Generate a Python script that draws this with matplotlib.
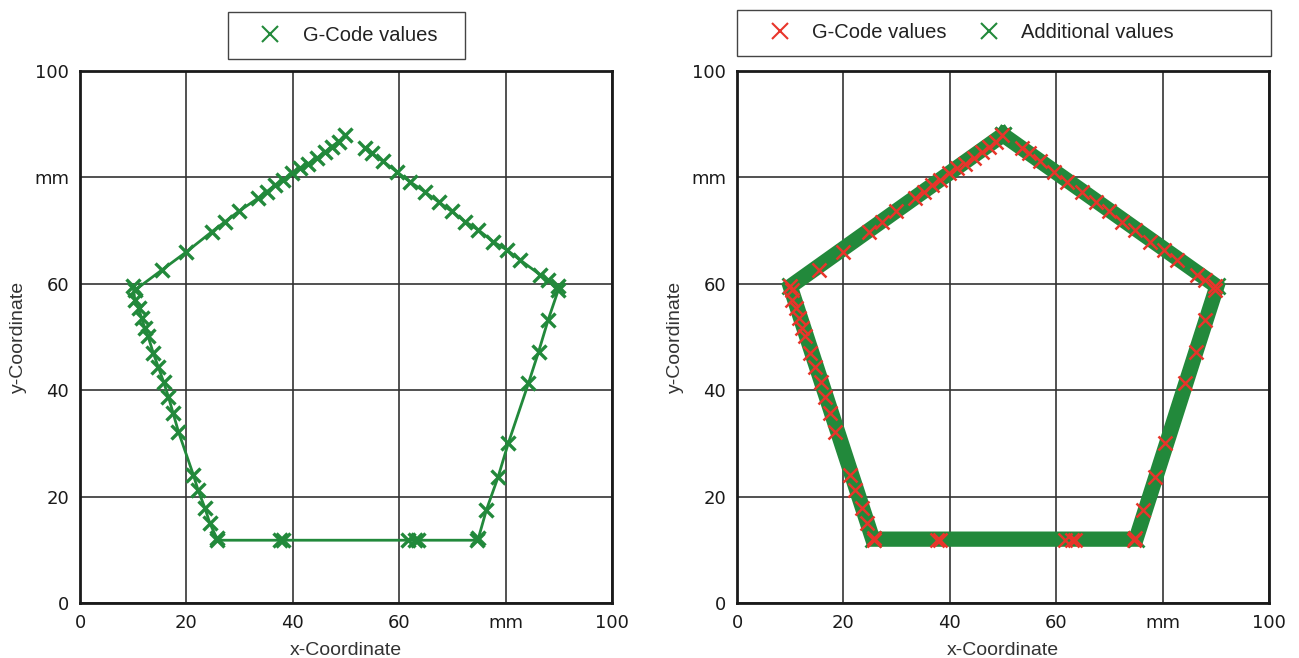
import matplotlib.pyplot as plt
from matplotlib.lines import Line2D
from matplotlib.patches import Rectangle

GREEN = "#22893b"
RED = "#e8352b"

# G-Code points, in path order (starts right of the top vertex, goes clockwise)
gcode_x = [53.6, 54.8, 57.0, 59.5, 62.0, 64.8, 67.4, 69.9, 72.4, 74.9, 77.7, 80.2,
           82.7, 86.5, 88.0, 89.9, 89.9, 88.0, 86.2, 84.3, 80.5, 78.6, 76.4, 74.9,
           74.6, 63.6, 63.0, 61.7, 38.2, 37.6, 25.7, 25.7, 24.4, 23.5, 22.2, 21.3,
           18.5, 17.5, 16.6, 15.7, 14.7, 13.8, 12.8, 12.2, 11.6, 11.0, 10.3, 10.0,
           10.3, 15.4, 20.0, 24.8, 27.3, 29.8, 33.5, 35.1, 36.7, 38.2, 39.8, 41.4,
           42.9, 44.5, 46.1, 47.3, 48.6, 49.8]
gcode_y = [85.5, 84.5, 83.0, 81.1, 79.2, 77.3, 75.4, 73.6, 71.7, 70.1, 67.9, 66.4,
           64.5, 61.7, 60.7, 59.5, 58.8, 53.2, 47.2, 41.3, 30.0, 23.7, 17.5, 12.2,
           11.8, 11.8, 11.8, 11.8, 11.8, 11.8, 11.8, 12.2, 15.0, 17.8, 21.2, 24.1,
           32.2, 35.7, 38.8, 41.6, 44.4, 46.9, 50.1, 51.6, 53.5, 55.4, 57.0, 59.5,
           58.8, 62.6, 66.0, 69.8, 71.7, 73.6, 76.1, 77.3, 78.6, 79.5, 80.8, 81.7,
           82.6, 83.6, 84.8, 85.8, 86.7, 88.0]

# corners of the closed pentagon traced by the additional values
extra_x = [50.0, 90.2, 75.0, 25.5, 10.0, 50.0]
extra_y = [88.0, 59.5, 12.0, 12.0, 59.5, 88.0]

ticks = [0, 20, 40, 60, 80, 100]
tick_labels = ["0", "20", "40", "60", "mm", "100"]

plt.rcParams["font.family"] = ["Liberation Sans", "DejaVu Sans"]

fig = plt.figure(figsize=(12.99, 6.58), dpi=100)
ax1 = fig.add_axes([0.0616, 0.0836, 0.4095, 0.8085])
ax2 = fig.add_axes([0.5674, 0.0836, 0.4095, 0.8085])

for ax in (ax1, ax2):
    ax.set_xlim(0, 100)
    ax.set_ylim(0, 100)
    ax.set_xticks(ticks)
    ax.set_yticks(ticks)
    ax.set_xticklabels(tick_labels, fontsize=13, family="DejaVu Sans")
    ax.set_yticklabels(tick_labels, fontsize=13, family="DejaVu Sans")
    ax.tick_params(length=0, pad=8, colors="#1a1a1a")
    ax.grid(True, color="#333333", linewidth=1.2)
    ax.set_axisbelow(True)
    for s in ax.spines.values():
        s.set_linewidth(2.0)
        s.set_color("#1a1a1a")
    ax.set_xlabel("x-Coordinate", fontsize=14, color="#333333", labelpad=7)
    ax.set_ylabel("y-Coordinate", fontsize=14, color="#333333", labelpad=5)

# left: G-code values joined by a line
ax1.plot(gcode_x, gcode_y, color=GREEN, linewidth=2.0, marker="x",
         markersize=10, markeredgewidth=2.4, zorder=3)

# right: dense additional values as a band, G-code values on top
ax2.plot(extra_x, extra_y, color=GREEN, linewidth=11, solid_joinstyle="miter",
         zorder=3)
ax2.plot(extra_x, extra_y, color=GREEN, linestyle="none", marker="x",
         markersize=11, markeredgewidth=2, zorder=3)
ax2.plot(gcode_x, gcode_y, color=RED, linestyle="none", marker="x",
         markersize=10, markeredgewidth=1.8, zorder=4)

h_g = Line2D([], [], color=GREEN, linestyle="none", marker="x", markersize=11,
             markeredgewidth=1.5)
h_r = Line2D([], [], color=RED, linestyle="none", marker="x", markersize=11,
             markeredgewidth=1.5)

leg_style = dict(fontsize=14.5, frameon=False, borderpad=0, borderaxespad=0,
                 handlelength=2.0, labelcolor="#222222", loc="center left")

fig.legend([h_g], ["G-Code values"], bbox_to_anchor=(0.1924, 0.946),
           handletextpad=0.64, **leg_style)
fig.legend([h_r, h_g], ["G-Code values", "Additional values"], ncol=2,
           bbox_to_anchor=(0.585, 0.95), handletextpad=0.6, columnspacing=1.09,
           **leg_style)

# legend frames
fig.patches.append(Rectangle((228 / 1299, 1 - 59 / 658), 237 / 1299, 47 / 658,
                             transform=fig.transFigure, fill=False,
                             edgecolor="#444444", linewidth=1.0))
fig.patches.append(Rectangle((737 / 1299, 1 - 56 / 658), 534 / 1299, 46 / 658,
                             transform=fig.transFigure, fill=False,
                             edgecolor="#444444", linewidth=1.0))

fig.savefig("out.png", dpi=100)
